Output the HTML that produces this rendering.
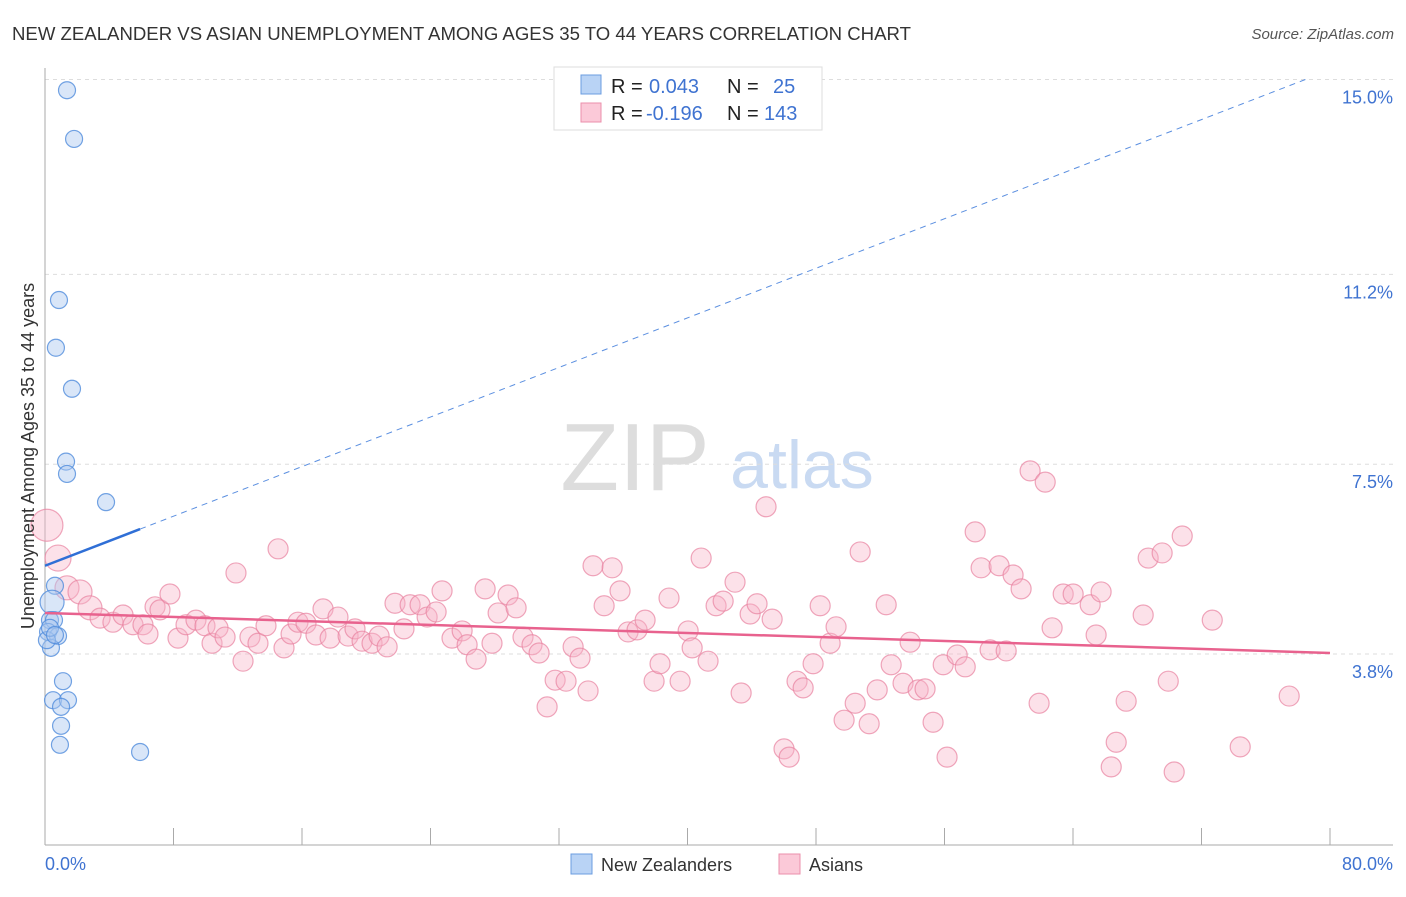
<!DOCTYPE html>
<html><head><meta charset="utf-8"><style>
body{margin:0;background:#fff;font-family:"Liberation Sans",sans-serif;}
svg text{font-family:"Liberation Sans",sans-serif;}
</style></head><body>
<svg id="chart" width="1406" height="892" viewBox="0 0 1406 892" xmlns="http://www.w3.org/2000/svg">
<text x="12" y="40" font-size="18.6" fill="#333">NEW ZEALANDER VS ASIAN UNEMPLOYMENT AMONG AGES 35 TO 44 YEARS CORRELATION CHART</text>
<text x="1394" y="39" font-size="15" fill="#555" text-anchor="end" font-style="italic">Source: ZipAtlas.com</text>
<g>
<text x="635" y="490" font-size="96" fill="#ddd" text-anchor="middle" font-family="Liberation Serif, serif">ZIP</text>
<text x="802" y="488" font-size="68" fill="#c9daf2" text-anchor="middle">atlas</text>
</g>
<g id="grid"></g>
<g id="axes"></g>
<g id="pink"></g>
<g id="blue"></g>
<g id="trends"></g>
<text transform="translate(34,456) rotate(-90)" font-size="18" fill="#333" text-anchor="middle">Unemployment Among Ages 35 to 44 years</text>
<g>
<rect x="554" y="67" width="268" height="63" fill="#fff" stroke="#ddd"/>
<rect x="581" y="75" width="20" height="19" fill="#b9d3f5" stroke="#6b9de0"/>
<rect x="581" y="103" width="20" height="19" fill="#fbc9d8" stroke="#eb8fab"/>
<text x="611" y="93" font-size="20" fill="#222">R =</text>
<text x="649" y="93" font-size="20" fill="#3f73d1">0.043</text>
<text x="727" y="93" font-size="20" fill="#222">N =</text>
<text x="773" y="93" font-size="20" fill="#3f73d1">25</text>
<text x="611" y="120" font-size="20" fill="#222">R =</text>
<text x="646" y="120" font-size="20" fill="#3f73d1">-0.196</text>
<text x="727" y="120" font-size="20" fill="#222">N =</text>
<text x="764" y="120" font-size="20" fill="#3f73d1">143</text>
</g>
<g>
<rect x="571" y="854" width="21" height="20" fill="#b9d3f5" stroke="#6b9de0"/>
<text x="601" y="871" font-size="18" fill="#333">New Zealanders</text>
<rect x="779" y="854" width="21" height="20" fill="#fbc9d8" stroke="#eb8fab"/>
<text x="809" y="871" font-size="18" fill="#333">Asians</text>
</g>
</svg>
<script>
const yTicks=[3.8,7.5,11.2,15.0];
const yTickLabels=["3.8%","7.5%","11.2%","15.0%"];
const xTickCount=10;
const xMin=0,xMax=80;
const blueX=[1.37,1.81,0.87,0.68,1.68,1.31,1.37,3.80,0.62,0.44,0.31,0.56,0.19,0.81,0.37,1.12,0.50,1.43,1.00,1.00,0.93,5.92,0.12,0.31,0.62];
const blueY=[14.79,13.84,10.70,9.77,8.97,7.55,7.31,6.76,5.13,4.81,4.46,4.46,4.23,4.15,3.92,3.27,2.90,2.90,2.77,2.40,2.03,1.89,4.07,4.31,4.17];
const pinkX=[0.12,0.81,1.37,2.18,2.80,3.43,4.23,4.86,5.48,6.10,6.41,6.85,7.16,7.78,8.28,8.78,9.40,9.96,10.40,10.77,11.21,11.89,12.33,12.76,13.26,13.76,14.51,14.88,15.32,15.75,16.25,16.87,17.31,17.75,18.24,18.87,19.30,19.74,20.36,20.80,21.30,21.79,22.35,22.73,23.35,23.79,24.35,24.72,25.34,25.97,26.28,26.84,27.40,27.83,28.21,28.83,29.33,29.76,30.32,30.76,31.26,31.76,32.44,32.88,33.31,33.81,34.12,34.81,35.31,35.80,36.30,36.86,37.36,37.92,38.29,38.85,39.54,40.04,40.29,40.85,41.28,41.78,42.22,42.96,43.34,43.90,44.33,44.89,45.27,46.01,46.33,46.82,47.20,47.82,48.26,48.88,49.25,49.75,50.44,50.75,51.31,51.81,52.37,52.68,53.42,53.86,54.36,54.79,55.29,55.92,56.16,56.79,57.29,57.91,58.28,58.84,59.40,59.84,60.27,60.77,61.33,61.89,62.27,62.70,63.39,64.01,65.07,65.44,65.75,66.38,66.69,67.31,68.37,68.68,69.55,69.93,70.30,70.80,72.67,74.41,77.46];
const pinkY=[6.31,5.67,5.09,5.01,4.70,4.50,4.42,4.56,4.37,4.37,4.19,4.72,4.66,4.97,4.11,4.37,4.46,4.35,4.01,4.31,4.13,5.38,3.66,4.13,4.01,4.35,5.85,3.92,4.19,4.42,4.40,4.17,4.68,4.11,4.52,4.15,4.29,4.05,4.01,4.15,3.94,4.79,4.29,4.76,4.76,4.52,4.62,5.03,4.11,4.25,3.98,3.70,5.07,4.01,4.60,4.95,4.70,4.13,3.98,3.82,2.77,3.29,3.27,3.94,3.72,3.08,5.52,4.74,5.48,5.03,4.23,4.27,4.46,3.27,3.61,4.89,3.27,4.25,3.92,5.67,3.66,4.74,4.83,5.20,3.04,4.58,4.78,6.67,4.48,1.95,1.79,3.27,3.14,3.61,4.74,4.01,4.33,2.51,2.84,5.79,2.44,3.10,4.76,3.59,3.23,4.03,3.10,3.12,2.47,3.59,1.79,3.78,3.55,6.18,5.48,3.88,5.52,3.86,5.34,5.07,7.37,2.84,7.15,4.31,4.97,4.97,4.76,4.17,5.01,1.60,2.08,2.88,4.56,5.67,5.77,3.27,1.50,6.10,4.46,1.99,2.98];
const blueTrend=[5.52,0.1208];
const pinkTrend=[4.60,-0.00975];

const NS="http://www.w3.org/2000/svg";
const L=45,R=1330,T=68,B=845;
function xs(v){return L+(v-xMin)/(xMax-xMin)*(R-L);}
function ys(v){return 654-(v-3.8)*51.3;}
function mk(tag,attrs,parent){const e=document.createElementNS(NS,tag);for(const k in attrs)e.setAttribute(k,attrs[k]);parent.appendChild(e);return e;}
const grid=document.getElementById('grid'),axes=document.getElementById('axes');
yTicks.forEach((t,i)=>{
  const g=mk('line',{x1:L,x2:1393,y1:ys(t),y2:ys(t),stroke:'#ddd','stroke-dasharray':'4,4'},grid);
  
  
  const tx=mk('text',{x:1393,y:ys(t)+24,'font-size':18,fill:'#3f73d1','text-anchor':'end'},grid);
  tx.textContent=yTickLabels[i];
  
  
});
let ax=mk('line',{x1:L,x2:L,y1:T,y2:B,stroke:'#aaa'},axes);


ax=mk('line',{x1:L,x2:1393,y1:B,y2:B,stroke:'#aaa'},axes);


for(let i=1;i<=xTickCount;i++){
  const v=xMin+i*(xMax-xMin)/xTickCount;
  const tk=mk('line',{x1:xs(v),x2:xs(v),y1:828,y2:B,stroke:'#aaa'},axes);
  
  
}
let xl=mk('text',{x:L,y:870,'font-size':18,fill:'#3f73d1'},axes);xl.textContent=xMin.toFixed(1)+'%';


xl=mk('text',{x:1393,y:870,'font-size':18,fill:'#3f73d1','text-anchor':'end'},axes);xl.textContent=xMax.toFixed(1)+'%';


const pg=document.getElementById('pink');
pinkX.forEach((x,i)=>{
  const r=i===0?16:(i===1?13:(i<5?12:10));
  const c=mk('circle',{cx:xs(x),cy:ys(pinkY[i]),r:r,fill:'rgba(248,180,200,0.4)',stroke:'rgba(232,130,160,0.7)','stroke-width':1.2},pg);
  
  
});
const bg=document.getElementById('blue');
blueX.forEach((x,i)=>{
  const r=i===9?12:8.5;
  const c=mk('circle',{cx:xs(x),cy:ys(blueY[i]),r:r,fill:'rgba(170,200,240,0.45)',stroke:'rgba(80,140,220,0.8)','stroke-width':1.2},bg);
  
  
});
const tg=document.getElementById('trends');
const bmax=Math.max(...blueX);
const xEnd=(15.0-blueTrend[0])/blueTrend[1];
let ln=mk('line',{x1:xs(0),y1:ys(blueTrend[0]),x2:xs(bmax),y2:ys(blueTrend[0]+blueTrend[1]*bmax),stroke:'#2f6fd6','stroke-width':2.5},tg);


ln=mk('line',{x1:xs(bmax),y1:ys(blueTrend[0]+blueTrend[1]*bmax),x2:xs(xEnd),y2:ys(15.0),stroke:'#5b8fe0','stroke-width':1,'stroke-dasharray':'6,5'},tg);


ln=mk('line',{x1:xs(0),y1:ys(pinkTrend[0]),x2:xs(80),y2:ys(pinkTrend[0]+pinkTrend[1]*80),stroke:'#e8628e','stroke-width':2.5},tg);


</script>
</body></html>
